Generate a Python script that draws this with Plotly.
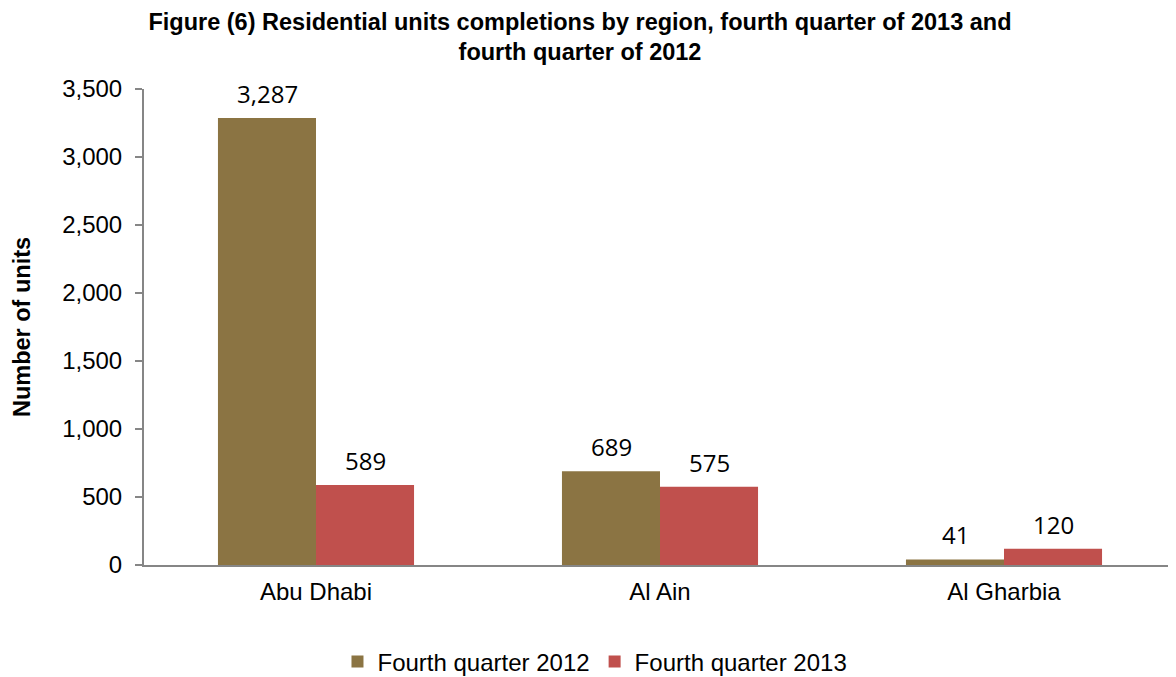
import plotly.graph_objects as go

regions = ["Abu Dhabi", "Al Ain", "Al Gharbia"]
q4_2012 = [3287, 689, 41]
q4_2013 = [589, 575, 120]
series_names = ["Fourth quarter 2012", "Fourth quarter 2013"]
y_ticks = [0, 500, 1000, 1500, 2000, 2500, 3000, 3500]
y_tick_labels = ["0", "500", "1,000", "1,500", "2,000", "2,500", "3,000", "3,500"]
title_text = ("<b>Figure (6) Residential units completions by region, fourth quarter of 2013 and"
              "<br>fourth quarter of 2012</b>")

colors = ["#8B7443", "#C0504D"]
label_font = dict(family="Open Sans, Noto Sans, sans-serif", size=24, color="#000000")
arial = "Liberation Sans, Arial, sans-serif"

W, H = 1168, 669
L, T, B = 136, 81, 112

fig = go.Figure()
for name, vals, col in zip(series_names, [q4_2012, q4_2013], colors):
    fig.add_trace(go.Bar(
        x=regions, y=vals, name=name,
        marker=dict(color=col, line=dict(width=0)),
    ))

annotations = []
for vals, shift in zip([q4_2012, q4_2013], [-49, 49]):
    for r, v in zip(regions, vals):
        annotations.append(dict(
            x=r, y=v, xref="x", yref="y", text=f"{v:,}", showarrow=False,
            xanchor="center", yanchor="bottom", xshift=shift, yshift=6,
            font=label_font,
        ))

fig.update_layout(
    width=W, height=H,
    margin=dict(l=L, r=0, t=T, b=B),
    paper_bgcolor="white", plot_bgcolor="white",
    barmode="group", bargap=0.43, bargroupgap=0,
    font=dict(family=arial, size=24, color="#000000"),
    title=dict(
        text=title_text, xref="container", yref="container",
        x=(580 - 8) / W, xanchor="center", y=1 - 21.5 / H, yanchor="middle",
        font=dict(family=arial, size=23.5, color="#000000"),
    ),
    annotations=annotations,
    xaxis=dict(
        showline=True, linecolor="#868686", linewidth=2,
        ticks="", showgrid=False, tickfont=dict(size=24), ticklabelstandoff=4,
    ),
    yaxis=dict(
        range=[0, 3500], tickvals=y_ticks, ticktext=y_tick_labels,
        showline=True, linecolor="#868686", linewidth=2,
        ticks="outside", ticklen=7, tickcolor="#868686", tickwidth=1.5,
        ticklabelstandoff=8,
        showgrid=False, zeroline=False, tickfont=dict(size=24),
        title=dict(text="<b>Number of units</b>", font=dict(size=23.5), standoff=25),
    ),
    legend=dict(
        orientation="h", x=0.437, xanchor="center",
        yref="container", y=15 / H, yanchor="middle",
        font=dict(size=24), itemwidth=30,
    ),
)

fig.write_html("out.html")
